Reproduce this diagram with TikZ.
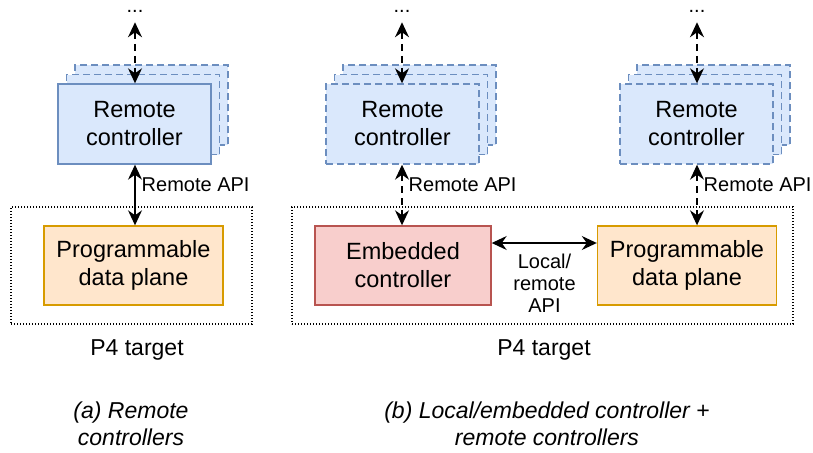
\documentclass[tikz,border=0pt]{standalone}
\usepackage{fontspec}
\setmainfont{Liberation Sans}
\usetikzlibrary{arrows.meta,positioning}
\definecolor{rcfill}{HTML}{DAE8FC}
\definecolor{rcdraw}{HTML}{6C8EBF}
\definecolor{dpfill}{HTML}{FFE6CC}
\definecolor{dpdraw}{HTML}{D79B00}
\definecolor{ecfill}{HTML}{F8CECC}
\definecolor{ecdraw}{HTML}{B85450}
\tikzset{
  box/.style={
      rectangle,
      line width=1.4pt,
      align=center,
      inner sep=0pt,
      font=\fontsize{23.5}{28}\selectfont
  },
  ctrl/.style={box, draw=rcdraw, fill=rcfill, minimum width=153pt, minimum height=80pt},
  ctrlback/.style={ctrl, dash pattern=on 7pt off 4pt},
  dplane/.style={box, draw=dpdraw, fill=dpfill, minimum width=179pt, minimum height=79pt},
  embctrl/.style={box, draw=ecdraw, fill=ecfill, minimum width=176pt, minimum height=79pt},
  target/.style={rectangle, draw, line width=1.3pt, dash pattern=on 1.4pt off 1.6pt},
  lbl/.style={inner sep=0pt, align=center, font=\fontsize{20}{22}\selectfont},
  big/.style={inner sep=0pt, align=center, font=\fontsize{23}{27}\selectfont},
  api/.style={line width=1.4pt, {Stealth[length=15pt,width=14pt,inset=5pt]}-{Stealth[length=15pt,width=14pt,inset=5pt]}},
  apidash/.style={api, dash pattern=on 7pt off 5pt}
}
\begin{document}
\begin{tikzpicture}[x=1pt,y=-1pt]
    \useasboundingbox (0,0) rectangle (813,452);

    % (a) remote controllers
    \node[target, minimum width=241pt, minimum height=117pt] (tgtA) at (131.5,265.5) {};
    \foreach \k in {2,1}
      \node[ctrlback, xshift=\k*8.5pt, yshift=\k*9.5pt] (rcAb\k) at (134.5,124) {};
    \node[ctrl] (rcA) at (134.5,124) {Remote\\controller};
    \node[dplane] (dpA) at (133.5,265.5) {Programmable\\data plane};
    \node[lbl] (dotsA) at (135,11) {...};
    \node[big] (p4A) at (137,350) {P4 target};
    \node[big, font=\fontsize{23}{27}\selectfont\itshape] (capA) at (131,424) {(a) Remote\\controllers};

    \draw[apidash] ([yshift=-10pt]dotsA.south) -- (dotsA.south |- rcA.north);
    \draw[api] (rcA.south -| 135,0) -- node[lbl, right=6pt, yshift=10pt] (apiA) {Remote API} (dpA.north -| 135,0);

    % (b) local/embedded + remote controllers
    \node[target, minimum width=501pt, minimum height=117pt] (tgtB) at (542.5,265.5) {};
    \foreach \k in {2,1} {
      \node[ctrlback, xshift=\k*8.5pt, yshift=\k*9.5pt] (rcBb\k) at (402.5,124) {};
      \node[ctrlback, xshift=\k*8.5pt, yshift=\k*9.5pt] (rcCb\k) at (696.5,124) {};
    }
    \node[ctrlback] (rcB) at (402.5,124) {Remote\\controller};
    \node[ctrlback] (rcC) at (696.5,124) {Remote\\controller};
    \node[embctrl] (ecB) at (403,265.5) {Embedded\\controller};
    \node[dplane] (dpC) at (687,265.5) {Programmable\\data plane};
    \node[lbl] (dotsB) at (402,11) {...};
    \node[lbl] (dotsC) at (697,11) {...};
    \node[lbl] (localapi) at (544.5,283) {Local/\\remote\\API};
    \node[big] (p4B) at (544,350) {P4 target};
    \node[big, font=\fontsize{23}{27}\selectfont\itshape] (capB) at (547,424) {(b) Local/embedded controller +\\remote controllers};

    \draw[apidash] ([yshift=-10pt]dotsB.south) -- (dotsB.south |- rcB.north);
    \draw[apidash] ([yshift=-10pt]dotsC.south) -- (dotsC.south |- rcC.north);
    \draw[apidash] (rcB.south -| 402,0) -- node[lbl, right=6pt, yshift=10pt] (apiB) {Remote API} (ecB.north -| 402,0);
    \draw[apidash] (rcC.south -| 697,0) -- node[lbl, right=6pt, yshift=10pt] (apiC) {Remote API} (dpC.north -| 697,0);
    \draw[api] ([yshift=22.5pt]ecB.east) -- ([yshift=22.5pt]dpC.west);
\end{tikzpicture}
\end{document}
